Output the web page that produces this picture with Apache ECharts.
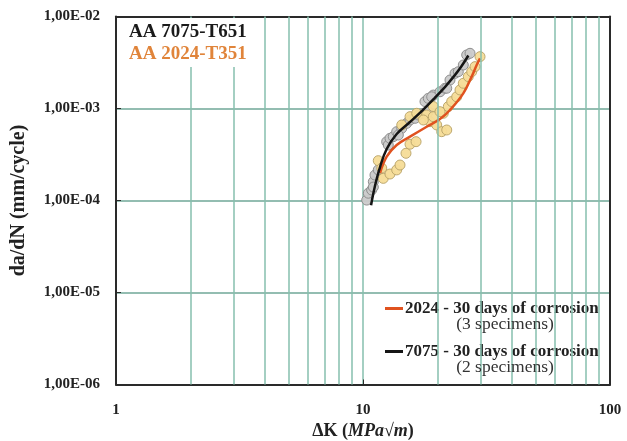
<!DOCTYPE html>
<html>
<head>
<meta charset="utf-8">
<script src="https://cdn.jsdelivr.net/npm/echarts@6/dist/echarts.min.js"></script>
<style>
html,body{margin:0;padding:0;background:#fff;}
#chart{width:627px;height:441px;}
</style>
</head>
<body>
<div id="chart"></div>
<script>
// ---- data ----
var xTickLabels = ['1', '10', '100'];
var yTickLabels = ['1,00E-06', '1,00E-05', '1,00E-04', '1,00E-03', '1,00E-02'];
var xMinorGrid = [2, 3, 4, 5, 6, 7, 8, 9, 20, 30, 40, 50, 60, 70, 80, 90];

var seriesNames = ['2024 - 30 days of corrosion', '7075 - 30 days of corrosion'];
var specimenNotes = ['(3 specimens)', '(2 specimens)'];

// 7075 fitted curve
var k7075Fit  = [10.78, 11.18, 11.72, 12.47, 13.69, 15.5, 17.5, 19.5, 21.5, 23.5, 25.0, 26.7];
var v7075Fit  = [8.9e-5, 1.44e-4, 2.31e-4, 3.63e-4, 5.28e-4, 7.14e-4, 9.68e-4, 1.30e-3, 1.72e-3, 2.29e-3, 2.86e-3, 3.77e-3];
// 2024 fitted curve
var k2024Fit  = [11.72, 12.47, 13.69, 15.50, 18.11, 20.50, 22.50, 25.47, 27.54, 28.86, 29.77];
var v2024Fit  = [1.98e-4, 2.99e-4, 4.01e-4, 4.94e-4, 6.34e-4, 7.67e-4, 9.63e-4, 1.46e-3, 2.22e-3, 2.97e-3, 3.51e-3];

// 7075 measured points
var k7075Pts = [10.35, 10.51, 10.84, 11.01, 11.18, 11.53, 12.47, 12.66, 12.86, 13.26, 13.69, 14.35, 15.03, 15.50, 16.24, 16.75, 17.55, 18.38, 17.82, 18.38, 19.26, 20.50, 21.48, 22.50, 23.58, 24.31, 25.47, 26.29, 27.12, 18.97, 21.83, 11.01, 13.90];
var v7075Pts = [1.01e-4, 1.20e-4, 1.30e-4, 1.60e-4, 1.89e-4, 2.15e-4, 4.36e-4, 4.01e-4, 4.74e-4, 4.94e-4, 5.60e-4, 6.09e-4, 6.90e-4, 7.50e-4, 7.82e-4, 8.50e-4, 8.87e-4, 9.23e-4, 1.19e-3, 1.29e-3, 1.40e-3, 1.52e-3, 1.66e-3, 2.04e-3, 2.41e-3, 2.51e-3, 2.97e-3, 3.82e-3, 3.98e-3, 1.34e-3, 1.66e-3, 1.40e-4, 5.15e-4];
// 2024 measured points
var k2024Pts = [11.53, 11.91, 12.08, 12.86, 13.69, 14.12, 14.93, 15.50, 16.40, 14.35, 15.50, 16.50, 18.11, 18.68, 19.88, 20.83, 21.83, 21.14, 22.15, 19.26, 17.55, 19.26, 20.50, 22.86, 23.95, 24.70, 25.47, 26.69, 27.55, 28.41, 29.77];
var v2024Pts = [2.71e-4, 2.25e-4, 1.74e-4, 1.94e-4, 2.15e-4, 2.43e-4, 3.26e-4, 4.09e-4, 4.36e-4, 6.62e-4, 8.15e-4, 8.87e-4, 8.50e-4, 7.19e-4, 6.62e-4, 5.60e-4, 5.84e-4, 8.87e-4, 1.05e-3, 1.05e-3, 7.50e-4, 8.15e-4, 9.23e-4, 1.19e-3, 1.34e-3, 1.59e-3, 1.88e-3, 2.22e-3, 2.51e-3, 2.85e-3, 3.66e-3];

function zip(a, b) { return a.map(function (x, i) { return [x, b[i]]; }); }

var FONT = "'Liberation Serif', 'Times New Roman', serif";
var GRID_V = '#86bfae';
var GRID_H = '#6fa797';
var BORDER = '#2a2a2a';

var chart = echarts.init(document.getElementById('chart'), null, {renderer: 'canvas'});
var option = {
  backgroundColor: '#fff',
  animation: false,
  title: {
    text: 'AA 7075-T651',
    subtext: 'AA 2024-T351',
    left: 118, top: 18,
    padding: [5, 8, 3, 11],
    itemGap: 3,
    backgroundColor: '#fff',
    textStyle: {fontFamily: FONT, fontWeight: 'bold', fontSize: 19, color: '#1a1a1a'},
    subtextStyle: {fontFamily: FONT, fontWeight: 'bold', fontSize: 19, color: '#e0843a'}
  },
  legend: {
    data: seriesNames,
    orient: 'vertical',
    left: 378, top: 297,
    padding: [3, 9, 19, 7],
    itemGap: 26,
    itemWidth: 18, itemHeight: 3,
    icon: 'rect',
    backgroundColor: '#fff',
    textStyle: {fontFamily: FONT, fontWeight: 'bold', fontSize: 17, color: '#222', padding: [0, 0, 0, -3]}
  },
  grid: {
    left: 116, top: 16.5, right: 17, bottom: 56.5,
    show: false,
    containLabel: false,
    outerBoundsMode: 'none'
  },
  xAxis: [{
    type: 'log', logBase: 10, min: 1, max: 100,
    name: '{n|ΔK (}{i|MPa}{n|√}{i|m}{n|)}',
    nameLocation: 'middle', nameGap: 35,
    nameTextStyle: {
      rich: {
        n: {fontFamily: FONT, fontWeight: 'bold', fontSize: 18, color: '#222'},
        i: {fontFamily: FONT, fontWeight: 'bold', fontStyle: 'italic', fontSize: 18, color: '#222'}
      }
    },
    axisLine: {show: true, lineStyle: {color: BORDER, width: 2}},
    axisTick: {show: true, inside: true, length: 5, lineStyle: {color: BORDER}},
    axisLabel: {
      margin: 18, fontFamily: FONT, fontWeight: 'bold', fontSize: 15, color: '#222',
      formatter: function (v) { return xTickLabels[Math.round(Math.log10(v))]; }
    },
    splitLine: {show: true, showMinLine: false, showMaxLine: false, lineStyle: {color: GRID_V, width: 1.5}}
  }, {
    type: 'log', logBase: 10, min: 1, max: 100, position: 'top',
    axisLine: {show: true, lineStyle: {color: BORDER, width: 2}},
    axisTick: {show: false}, axisLabel: {show: false}, splitLine: {show: false}
  }],
  yAxis: [{
    type: 'log', logBase: 10, min: 1e-6, max: 1e-2,
    name: 'da/dN (mm/cycle)',
    nameLocation: 'middle', nameGap: 87,
    nameTextStyle: {fontFamily: FONT, fontWeight: 'bold', fontSize: 20, color: '#222'},
    axisLine: {show: true, lineStyle: {color: BORDER, width: 2}},
    axisTick: {show: true, inside: true, length: 5, lineStyle: {color: BORDER}},
    axisLabel: {
      margin: 16, fontFamily: FONT, fontWeight: 'bold', fontSize: 15, color: '#222',
      formatter: function (v) { return yTickLabels[Math.round(Math.log10(v)) + 6]; }
    },
    splitLine: {show: true, showMinLine: false, showMaxLine: false, lineStyle: {color: GRID_H, width: 1.5}}
  }, {
    type: 'log', logBase: 10, min: 1e-6, max: 1e-2, position: 'right',
    axisLine: {show: true, lineStyle: {color: BORDER, width: 2}},
    axisTick: {show: false}, axisLabel: {show: false}, splitLine: {show: false}
  }],
  graphic: [
    {type: 'text', z: 100, style: {text: specimenNotes[0], x: 505, y: 324, align: 'center', verticalAlign: 'middle', font: '17.5px ' + FONT, fill: '#333'}},
    {type: 'text', z: 100, style: {text: specimenNotes[1], x: 505, y: 367, align: 'center', verticalAlign: 'middle', font: '17.5px ' + FONT, fill: '#333'}}
  ],
  series: [
    {
      name: 'minor-grid', type: 'line', data: [], z: 1, silent: true,
      markLine: {
        silent: true, symbol: ['none', 'none'], label: {show: false},
        lineStyle: {type: 'solid', color: GRID_V, width: 1.5},
        emphasis: {disabled: true},
        data: xMinorGrid.map(function (v) { return {xAxis: v}; })
      }
    },
    {
      name: '7075 points', type: 'scatter', z: 3,
      data: zip(k7075Pts, v7075Pts),
      symbolSize: 10,
      itemStyle: {color: '#cacaca', borderColor: '#8a8a8a', borderWidth: 1, opacity: 0.95}
    },
    {
      name: '2024 points', type: 'scatter', z: 3,
      data: zip(k2024Pts, v2024Pts),
      symbolSize: 10,
      itemStyle: {color: '#f5dc97', borderColor: '#b9a46a', borderWidth: 1, opacity: 0.95}
    },
    {
      name: seriesNames[0], type: 'line', z: 4,
      data: zip(k2024Fit, v2024Fit),
      smooth: 0.4, showSymbol: false, symbol: 'none',
      lineStyle: {color: '#e0521f', width: 2.5},
      itemStyle: {color: '#e0521f'}
    },
    {
      name: seriesNames[1], type: 'line', z: 5,
      data: zip(k7075Fit, v7075Fit),
      smooth: 0.4, showSymbol: false, symbol: 'none',
      lineStyle: {color: '#151515', width: 2.5},
      itemStyle: {color: '#151515'}
    }
  ]
};
chart.setOption(option);
</script>
</body>
</html>
